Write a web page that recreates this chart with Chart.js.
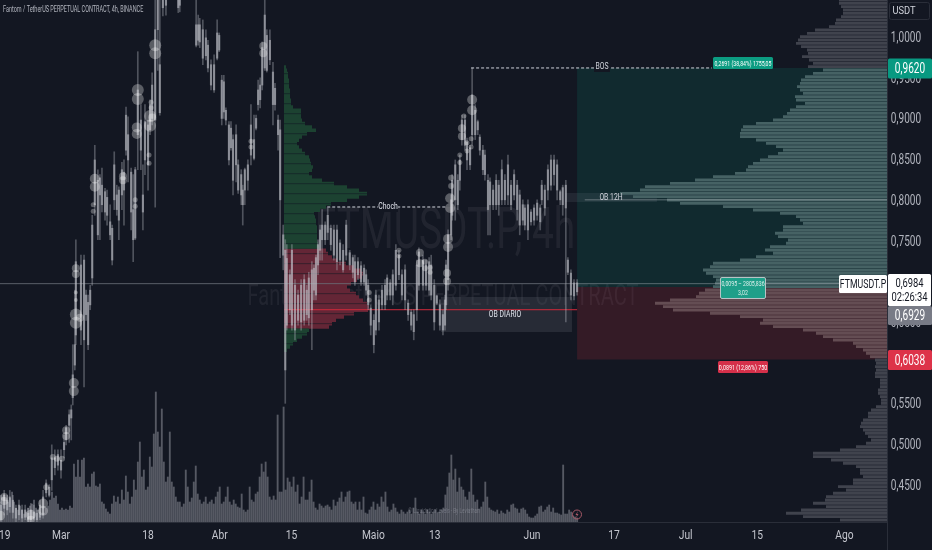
<!DOCTYPE html>
<html>
<head>
<meta charset="utf-8">
<title>FTMUSDT.P 4h</title>
<script src="https://cdn.jsdelivr.net/npm/chart.js@4"></script>
<style>
  html, body { margin: 0; padding: 0; background: #131722; }
  canvas { display: block; }
</style>
</head>
<body>
<canvas id="chart" width="932" height="550"></canvas>
<script>
// x axis is in days counted from 1 March
const xTickDays = [-11, 0, 17, 31, 45, 61, 73, 92, 108, 122, 136, 153];
const xTickLabels = ['19', 'Mar', '18', 'Abr', '15', 'Maio', '13', 'Jun', '17', 'Jul', '15', 'Ago'];
const yTickValues = [1, 0.95, 0.9, 0.85, 0.8, 0.75, 0.7, 0.65, 0.6, 0.55, 0.5, 0.45];

const candleDays = [
  -11.7,-11.1,-10.5,-10,-9.4,-8.8,-8.2,-7.6,-7,-6.4,-5.9,-5.3,-4.7,-4.1,-3.5,-2.9,-2.3,-1.8,-1.2,-.6,
  0,.6,1,1.6,2,2.3,2.7,2.9,3.9,4.5,4.9,5.3,5.7,6.1,6.6,7.2,7.6,8,8.6,9,
  9.6,10,10.4,10.9,11.3,11.9,12.3,12.7,13.1,13.7,14.1,14.5,15,15.6,16,16.4,17,17.4,17.8,18.4,18.9,19.3,19.9,20.5,22.9,23.2,
  26.4,26.8,27.1,27.7,28.3,28.7,29.3,29.9,30.5,30.9,31.4,31.8,32.2,32.8,33.2,33.6,34.2,34.6,35.2,35.5,35.9,36.5,37.1,37.7,38.1,38.5,38.9,39.3,39.8,40.2,40.8,41.4,41.8,42.4,42.8,43.4,43.8,
  44.1,44.7,45.1,45.7,46.3,46.9,47.5,48,48.4,49,49.4,49.8,50.2,50.6,51,51.6,52.1,52.7,53.3,53.9,54.5,55.1,55.7,56.4,57,57.4,58,58.6,59.2,59.6,60,60.5,61.1,
  61.5,62.1,62.7,63.3,63.7,64.3,64.8,65.4,66,66.6,67.2,67.8,68.4,68.9,69.5,69.9,70.7,71.3,71.9,72.3,72.9,73.4,74,74.6,75,75.2,75.6,
  76.2,76.4,77,77.5,77.9,78.3,78.9,79.3,79.9,80.3,80.9,81.4,81.8,82.4,82.8,83.4,83.8,84.4,85,85.5,86.1,86.7,87.3,
  87.9,88.5,89.1,89.6,90.2,90.6,91.2,91.8,92.4,93,93.6,93.9,94.5,95.1,95.7,96.3,96.9,97.5,98,98.6,99,99.6,100.2,100.8
];
const candleHigh = [
  .437,.443,.437,.443,.437,.425,.431,.425,.425,.421,.427,.425,.419,.431,.443,.456,.450,.499,.493,.493,
  .493,.511,.523,.542,.548,.622,.689,.751,.732,.732,.689,.683,.695,.781,.867,.837,.831,.839,.814,.812,
  .794,.769,.859,.818,.816,.846,.849,.914,.902,.839,.831,.840,.982,.917,.843,.917,.898,.923,.956,1.07,1.07,1.07,1.07,1.07,1.07,1.07,
  1.07,1.027,1.023,1.021,1.009,.996,.972,.978,1.021,1.005,.953,.953,.913,.896,.896,.880,.892,.849,.837,.818,.839,.849,.917,.904,.904,.947,.950,.994,1.07,1.009,1.009,.969,.943,.904,.898,.769,.751,
  .745,.714,.745,.702,.689,.702,.708,.695,.711,.724,.720,.732,.751,.769,.788,.773,.790,.769,.769,.769,.751,.745,.775,.738,.732,.732,.729,.724,.720,.714,.702,.671,.659,
  .689,.683,.695,.702,.708,.702,.714,.745,.738,.714,.720,.677,.665,.665,.726,.741,.732,.726,.729,.732,.702,.683,.677,.665,.683,.726,.763,
  .806,.831,.849,.831,.855,.904,.904,.876,.867,.962,.917,.898,.880,.867,.861,.831,.827,.818,.831,.824,.849,.831,.855,
  .824,.837,.824,.812,.800,.794,.800,.788,.794,.800,.794,.824,.818,.843,.855,.855,.849,.812,.818,.824,.729,.714,.702,.702
];
const candleLow = [
  .404,.413,.413,.416,.409,.404,.407,.404,.407,.404,.404,.407,.404,.407,.409,.435,.435,.443,.462,.468,
  .458,.483,.499,.502,.505,.548,.591,.622,.622,.570,.652,.616,.665,.695,.781,.751,.751,.785,.775,.769,
  .751,.720,.788,.781,.751,.788,.769,.855,.822,.763,.724,.751,.837,.837,.763,.831,.812,.880,.892,.791,.959,.904,1.026,1.027,1.030,1.031,
  .988,.990,.987,.966,.972,.957,.935,.932,.972,.982,.892,.900,.892,.843,.861,.806,.822,.808,.794,.769,.794,.812,.843,.849,.886,.910,.913,.935,.959,.957,.966,.892,.910,.861,.729,.714,.550,
  .640,.659,.640,.628,.646,.640,.646,.652,.646,.616,.677,.677,.708,.726,.726,.745,.751,.738,.726,.714,.720,.711,.726,.714,.704,.695,.702,.695,.695,.683,.665,.634,.612,
  .634,.640,.665,.665,.677,.677,.671,.689,.702,.677,.665,.652,.640,.628,.652,.689,.689,.689,.683,.677,.640,.671,.640,.634,.640,.665,.689,
  .751,.775,.775,.788,.812,.867,.861,.837,.837,.867,.874,.880,.855,.831,.824,.757,.757,.788,.788,.781,.794,.794,.794,
  .788,.800,.775,.757,.769,.763,.751,.769,.769,.775,.763,.794,.781,.800,.812,.818,.800,.794,.781,.650,.708,.677,.677,.683
];
const bodyTop = [
  .425,.437,.431,.435,.431,.421,.425,.419,.419,.415,.419,.416,.415,.425,.435,.452,.447,.483,.483,.487,
  .480,.502,.520,.536,.542,.585,.622,.724,.720,.726,.683,.674,.689,.769,.849,.824,.827,.818,.810,.803,
  .773,.765,.843,.806,.812,.837,.834,.904,.880,.834,.788,.837,.935,.898,.806,.896,.892,.917,.941,1.009,1.06,.966,1.06,1.06,1.06,1.06,
  1.015,1.015,1.015,1.009,.999,.990,.966,.966,1.005,1.002,.947,.945,.910,.892,.888,.874,.880,.843,.831,.812,.837,.843,.892,.874,.900,.935,.941,.987,1.027,1.002,.996,.957,.937,.898,.886,.757,.738,
  .728,.708,.738,.695,.683,.695,.702,.689,.704,.714,.716,.729,.745,.763,.769,.769,.781,.765,.763,.763,.747,.738,.769,.735,.729,.724,.724,.719,.716,.708,.695,.667,.652,
  .683,.677,.689,.695,.704,.698,.708,.738,.732,.708,.714,.673,.662,.659,.720,.736,.726,.720,.724,.720,.695,.682,.671,.659,.677,.720,.757,
  .800,.824,.843,.824,.849,.898,.898,.871,.864,.929,.910,.896,.877,.861,.855,.824,.822,.812,.824,.818,.837,.824,.843,
  .818,.831,.818,.806,.794,.790,.794,.785,.790,.796,.790,.818,.812,.837,.849,.849,.843,.810,.815,.818,.726,.710,.698,.698
];
const bodyBottom = [
  .407,.421,.419,.423,.416,.409,.413,.409,.410,.407,.407,.409,.407,.410,.413,.440,.437,.456,.471,.474,
  .468,.493,.505,.523,.532,.557,.597,.634,.640,.628,.659,.622,.671,.704,.794,.757,.806,.794,.785,.781,
  .757,.726,.800,.788,.775,.806,.812,.861,.849,.785,.751,.753,.880,.861,.785,.849,.843,.886,.900,.898,1.009,.907,1.036,1.039,1.036,1.039,
  .990,.996,.994,.974,.977,.962,.941,.935,.974,.984,.900,.908,.898,.849,.864,.824,.843,.812,.806,.794,.812,.824,.855,.851,.888,.917,.923,.941,.962,.959,.972,.917,.917,.880,.800,.732,.591,
  .646,.665,.646,.640,.652,.650,.652,.659,.655,.665,.689,.683,.720,.738,.751,.751,.760,.745,.732,.724,.726,.714,.732,.720,.711,.699,.708,.699,.699,.689,.671,.646,.622,
  .640,.650,.671,.671,.683,.683,.683,.695,.708,.683,.677,.659,.646,.638,.665,.695,.695,.695,.689,.683,.650,.673,.646,.640,.646,.671,.702,
  .757,.781,.800,.794,.824,.874,.867,.849,.843,.880,.880,.886,.861,.837,.831,.788,.794,.794,.794,.794,.800,.800,.806,
  .794,.806,.788,.769,.775,.769,.763,.773,.775,.781,.773,.800,.790,.812,.818,.831,.812,.800,.794,.790,.711,.683,.682,.687
];

// big-order circles on the candles
const bubbleDays = [
  -11.1,-11.1,-11.9,-5.9,-5.9,-3.5,-3.5,-2.9,-1.6,-.8,.2,1,1,2.5,2.5,2.9,2.9,3.7,2.9,2.9,2.9,2.9,
  6.6,6.6,6.3,6.3,12.1,12.1,14.5,14.5,14.8,14.8,15,15,17.2,17.2,17.4,17.4,17.8,17.6,17.6,18.4,18.4,
  37.1,37.1,39.5,39.5,60.2,60.2,66,66,70.1,70.1,71.1,71.1,72.1,72.1,
  75.4,75.4,75.6,75.6,76,76,76.2,76.2,77.9,77.9,78.3,78.3,78.7,79.3,79.3,80.1,80.1,80.3,80.3
];
const bubblePrices = [
  .435,.430,.412,.413,.407,.427,.418,.447,.484,.482,.482,.517,.510,.575,.565,.659,.649,.655,.686,.677,.716,.709,
  .826,.816,.794,.786,.829,.824,.800,.792,.889,.881,.935,.924,.855,.845,.903,.891,.901,.920,.913,.990,.980,
  .872,.865,.989,.980,.686,.677,.738,.731,.735,.722,.724,.716,.717,.711,
  .710,.700,.752,.742,.802,.790,.827,.817,.855,.846,.888,.878,.903,.870,.860,.875,.865,.923,.910
];
const bubbleSizes = [
  4,4,5,5,4,5,5,3,3,3,3,4,4,5,5,6,6,4,2,2,4,4,
  5,5,2.5,2.5,4,4,2.5,2.5,5,5,6,6,2.5,2.5,6,6,4,2.5,2.5,6,6,
  2.5,2.5,4,4,2.5,2.5,2.5,2.5,4,4,3,3,2.5,2.5,
  4,4,5,5,5,5,3,3,2.5,2.5,4,4,2.5,2.5,2.5,2.5,2.5,5,5
];

// volume bars, one every 0.39 day
const volumeStartDay = -11.9;
const volumeStepDay = 0.39;
const volumeValues = [
  20,25,28,22,20,24,30,20,14,12,16,12,8,10,14,16,18,22,14,12,
  10,9,9,14,16,22,30,24,26,18,12,14,12,13,12,16,14,58,45,62,
  45,62,64,35,38,35,48,50,36,35,38,20,18,13,10,8,18,26,20,25,
  18,32,22,46,30,18,25,42,32,60,80,45,52,32,35,65,55,88,130,90,
  75,113,60,40,45,90,40,35,25,20,20,15,18,52,35,20,24,40,56,28,
  22,18,20,25,18,20,22,18,25,30,35,18,20,25,35,20,17,22,18,15,
  14,28,12,10,12,35,22,20,28,30,45,58,50,60,45,25,22,26,22,107,
  30,30,115,32,44,40,35,45,30,37,18,25,45,22,22,30,42,20,14,12,
  18,16,14,16,17,15,12,22,16,20,24,30,20,25,30,31,20,18,20,12,
  20,12,25,9,8,12,15,20,12,18,15,25,20,30,15,10,12,18,14,10,
  8,12,10,8,10,12,8,14,24,10,8,12,10,8,12,10,8,10,12,9,
  10,12,14,27,35,49,67,42,53,30,44,35,32,25,22,30,53,27,20,22,
  13,15,20,40,25,14,12,11,10,12,8,11,9,8,12,10,17,18,14,13,
  9,13,14,12,8,5,4,4,6,8,15,16,10,12,15,17,10,14,9,9,
  8,7,57,8,8,12,10,6,5,4
];

// volume profile on the right edge, top row first
const profileTopPrice = 1.0455;
const profileRowStep = 0.004095;
const profileVolume = [
  48,48,46,44,44,46,51,52,58,72,80,87,89,91,86,80,79,85,78,74,79,
  64,74,82,86,87,90,87,84,92,91,82,91,97,100,104,114,131,144,146,147,147,131,121,111,104,109,119,127,134,139,141,152,174,192,217,242,247,267,254,220,207,164,134,107,91,87,84,104,104,112,109,99,101,117,122,114,131,147,174,177,184,181,174,171,
  172,174,182,188,191,217,232,224,214,177,147,124,127,114,84,71,64,54,34,31,24,21,17,12,11,12,11,12,12,7,7,7,9,9,7,6,6,11,16,19,19,24,26,27,24,22,19,16,21,31,47,74,74,56,44,31,27,27,24,34,34,49,41,54,61,62,74,61,86,101,84,47
];

// session profile anchored mid chart
const sessionTopPrice = 0.9632;
const sessionVolume = [
  2,3,4,4,5,5,5,6,6,6,7,7,9,17,17,17,18,21,28,32,23,18,15,13,15,18,21,25,26,27,29,28,25,28,38,50,63,75,83,75,63,47,42,36,30,31,32,32,33,33,33,33,33,34,35,
  42,44,48,53,62,70,77,79,78,73,67,63,66,72,75,79,83,85,84,70,60,52,48,45,
  25,23,18,13,9,6,3
];

// price levels
const targetPrice = 0.962;
const entryPrice = 0.6929;
const stopPrice = 0.6038;
const lastPrice = 0.6984;
const valueAreaHigh = 0.7385;
const valueAreaLow = 0.6405;
const chocPrice = 0.7912;
const pocPrice = 0.665;
const ob12hPrice = 0.8;

const font = "Roboto, sans-serif";
const xMin = -11.914, xMax = 161.33;

function rows(top, volumes, keep) {
  const out = [];
  volumes.forEach((v, i) => {
    const p = top - i * profileRowStep;
    if (keep(p, i)) out.push({ x: v, y: p }, { x: 0, y: p }, { x: null, y: null });
  });
  return out;
}

function levelLine(from, to, price, color, width, dash, order) {
  return {
    type: 'line', order, xAxisID: 'x', yAxisID: 'y',
    data: [{ x: from, y: price }, { x: to, y: price }],
    borderColor: color, borderWidth: width, borderDash: dash || [], pointRadius: 0
  };
}

function box(from, to, top, bottom, color, order) {
  return {
    type: 'line', order, xAxisID: 'x', yAxisID: 'y',
    data: [{ x: from, y: top }, { x: to, y: top }],
    borderWidth: 0, pointRadius: 0, backgroundColor: color, fill: { value: bottom }
  };
}

function profileRows(data, color, order) {
  return {
    type: 'line', order, xAxisID: 'xProfile', yAxisID: 'y', data,
    borderColor: color, borderWidth: 2.9, pointRadius: 0, spanGaps: false
  };
}

function sessionRows(data, color, width, order) {
  return {
    type: 'line', order, xAxisID: 'xSession', yAxisID: 'y', data,
    borderColor: color, borderWidth: width, pointRadius: 0, spanGaps: false
  };
}

const datasets = [
  box(100.8, xMax, targetPrice, entryPrice, 'rgba(8,153,129,0.15)', 20),
  box(100.8, xMax, entryPrice, stopPrice, 'rgba(242,54,69,0.15)', 20),
  box(98.4, 116.4, 0.8084, 0.7974, 'rgba(120,123,134,0.16)', 19),
  box(74.2, 99.8, 0.6807, 0.6376, 'rgba(120,123,134,0.2)', 19),
  {
    type: 'bar', order: 18, xAxisID: 'x', yAxisID: 'yVolume', grouped: false, barThickness: 1.2,
    data: volumeValues.map((v, i) => ({ x: volumeStartDay + i * volumeStepDay, y: v })),
    backgroundColor: 'rgba(178,181,190,0.42)'
  },
  sessionRows(rows(sessionTopPrice, sessionVolume, p => p > valueAreaHigh || p < valueAreaLow), '#1c4231', 3.6, 17),
  sessionRows(rows(sessionTopPrice, sessionVolume, p => p <= valueAreaHigh && p >= valueAreaLow), '#642636', 3.6, 17),
  sessionRows(rows(sessionTopPrice, sessionVolume, (p, i) => i % 3 === 2), 'rgba(19,23,34,0.55)', 1, 16),
  profileRows(rows(profileTopPrice, profileVolume, p => p > targetPrice || p < stopPrice), '#40434d', 15),
  profileRows(rows(profileTopPrice, profileVolume, p => p <= targetPrice && p > entryPrice), '#466264', 15),
  profileRows(rows(profileTopPrice, profileVolume, p => p <= entryPrice && p >= stopPrice), '#644d53', 15),
  levelLine(xMin, xMax, 0.697, 'rgba(178,181,190,0.45)', 1, null, 12),
  levelLine(43.6, 100.8, pocPrice, '#d02a3a', 1, null, 12),
  levelLine(102.3, xMax, ob12hPrice, 'rgba(178,181,190,0.5)', 1, null, 12),
  {
    type: 'bar', order: 10, xAxisID: 'x', yAxisID: 'y', grouped: false, barThickness: 1,
    data: candleDays.map((d, i) => ({ x: d, y: [candleLow[i], candleHigh[i]] })),
    backgroundColor: 'rgba(178,181,190,0.38)'
  },
  {
    type: 'bar', order: 9, xAxisID: 'x', yAxisID: 'y', grouped: false, barThickness: 1.5,
    data: candleDays.map((d, i) => ({ x: d, y: [bodyBottom[i], bodyTop[i]] })),
    backgroundColor: 'rgba(196,198,206,0.55)'
  },
  {
    type: 'bubble', order: 8, xAxisID: 'x', yAxisID: 'y',
    data: bubbleDays.map((d, i) => ({ x: d, y: bubblePrices[i], r: bubbleSizes[i] })),
    backgroundColor: 'rgba(255,255,255,0.3)', borderWidth: 0
  },
  levelLine(80.1, 127.1, targetPrice, '#d1d4dc', 1, [3, 2], 5),
  levelLine(52, 75.4, chocPrice, '#d1d4dc', 1, [3, 2], 5)
];

// the reference type is very condensed, so text is squeezed sideways
function squeezed(ctx, text, x, y, color, size, squeeze, align) {
  ctx.save();
  ctx.fillStyle = color;
  ctx.font = size + 'px ' + font;
  ctx.textAlign = align || 'center';
  ctx.textBaseline = 'middle';
  ctx.translate(x, y);
  ctx.scale(squeeze, 1);
  ctx.fillText(text, 0, 0);
  ctx.restore();
}

function tag(ctx, x, y, w, h, fill, lines, color, size, squeeze, border) {
  ctx.fillStyle = fill;
  ctx.beginPath();
  ctx.roundRect(x, y, w, h, 1.5);
  ctx.fill();
  if (border) {
    ctx.strokeStyle = border;
    ctx.lineWidth = 1;
    ctx.stroke();
  }
  lines.forEach((t, i) => {
    const dy = (i - (lines.length - 1) / 2) * (size + 2);
    squeezed(ctx, t, x + w / 2, y + h / 2 + dy + 1, color, size, squeeze);
  });
}

const overlay = {
  id: 'overlay',
  beforeDatasetsDraw(chart) {
    const ctx = chart.ctx;
    squeezed(ctx, 'FTMUSDT.P, 4h', 445, 233, 'rgba(178,181,190,0.09)', 58, 0.67);
    squeezed(ctx, 'Fantom / TetherUS PERPETUAL CONTRACT', 443, 297, 'rgba(178,181,190,0.09)', 30, 0.67);
  },
  afterDraw(chart) {
    const ctx = chart.ctx;
    const xScale = chart.scales.x;
    const yScale = chart.scales.y;
    const money = v => v.toFixed(4).replace('.', ',');
    ctx.save();

    // axis labels, placed through the scales
    xTickDays.forEach((d, i) => {
      squeezed(ctx, xTickLabels[i], xScale.getPixelForValue(d), 536, '#c4c6ce', 12.5, 0.82);
    });
    yTickValues.forEach(v => {
      squeezed(ctx, money(v), 906, yScale.getPixelForValue(v) + 1.5, '#b2b5be', 14, 0.72);
    });

    squeezed(ctx, 'Fantom / TetherUS PERPETUAL CONTRACT, 4h, BINANCE', 3, 10, '#b2b5be', 9, 0.61, 'left');

    ctx.fillStyle = '#131722';
    ctx.fillRect(378, 202, 20, 10);
    squeezed(ctx, 'Choch', 388, 207, '#e0e3eb', 9.5, 0.72);
    ctx.fillRect(594, 63, 16, 9);
    squeezed(ctx, 'BOS', 602, 67, '#d1d4dc', 9.5, 0.72);
    squeezed(ctx, 'OB 12H', 611, 198, '#d1d4dc', 9.5, 0.72);
    squeezed(ctx, 'OB DIARIO', 505, 315, '#e0e3eb', 9.5, 0.72);
    squeezed(ctx, '© LiquidationLevels - By Leviathan', 444, 511, 'rgba(178,181,190,0.4)', 6.5, 0.72);

    tag(ctx, 713, 57, 60, 12, '#0c9c82', ['0,2691 (38,84%) 1755,05'], '#ffffff', 6.5, 0.8);
    tag(ctx, 718, 361, 50, 12, '#d5304a', ['0,0891 (12,86%) 750'], '#ffffff', 6.5, 0.82);
    tag(ctx, 720.5, 277.5, 45, 21, '#1f9f89', ['0,0095 – 2805,836', '3,02'], '#dcefeb', 6.5, 0.8, '#b8c4c6');

    // right axis price tags
    tag(ctx, 888, yScale.getPixelForValue(targetPrice) - 9.5, 44, 20, '#089981', [money(targetPrice)], '#ffffff', 14, 0.72);
    tag(ctx, 888, yScale.getPixelForValue(stopPrice) - 9.5, 44, 20, '#dd3349', [money(stopPrice)], '#ffffff', 14, 0.72);
    tag(ctx, 888, 306, 44, 19, '#787b86', [money(entryPrice)], '#ffffff', 14, 0.72);
    tag(ctx, 839, 275, 48, 18, '#ffffff', ['FTMUSDT.P'], '#131722', 12.5, 0.7);
    tag(ctx, 888, 274, 43, 32, '#ffffff', [money(lastPrice), '02:26:34'], '#131722', 12.5, 0.75);

    // USDT button
    ctx.strokeStyle = '#2a2e39';
    ctx.lineWidth = 1;
    ctx.beginPath();
    ctx.roundRect(889.5, 2.5, 40, 17, 2);
    ctx.stroke();
    squeezed(ctx, 'USDT', 904, 11, '#d1d4dc', 11, 0.85);

    ctx.strokeStyle = '#2a2e39';
    ctx.beginPath();
    ctx.moveTo(887.5, 522);
    ctx.lineTo(887.5, 550);
    ctx.stroke();

    // news flash icon
    ctx.strokeStyle = '#a85a68';
    ctx.beginPath();
    ctx.arc(577, 514.5, 4.5, 0, Math.PI * 2);
    ctx.stroke();
    ctx.fillStyle = '#a85a68';
    ctx.beginPath();
    ctx.moveTo(578, 511);
    ctx.lineTo(575.5, 515);
    ctx.lineTo(577, 515);
    ctx.lineTo(576, 518);
    ctx.lineTo(578.5, 514);
    ctx.lineTo(577, 514);
    ctx.closePath();
    ctx.fill();
    ctx.restore();
  }
};

new Chart(document.getElementById('chart'), {
  data: { datasets },
  plugins: [overlay],
  options: {
    responsive: false,
    animation: false,
    layout: { padding: 0, autoPadding: false },
    plugins: { legend: { display: false }, tooltip: { enabled: false } },
    scales: {
      x: {
        type: 'linear', min: xMin, max: xMax, offset: false,
        grid: { display: false, drawTicks: false },
        border: { color: '#2a2e39' },
        afterBuildTicks: s => { s.ticks = xTickDays.map(value => ({ value })); },
        afterFit: s => { s.height = 28; s.paddingLeft = 0; s.paddingRight = 0; },
        ticks: { display: false }
      },
      y: {
        type: 'linear', position: 'right', min: 0.4042, max: 1.0455,
        grid: { display: false, drawTicks: false },
        border: { color: '#2a2e39' },
        afterBuildTicks: s => { s.ticks = yTickValues.map(value => ({ value })); },
        afterFit: s => { s.width = 45; s.paddingTop = 0; s.paddingBottom = 0; },
        ticks: { display: false }
      },
      yVolume: { type: 'linear', display: false, min: 0, max: 522 },
      xProfile: { type: 'linear', display: false, reverse: true, min: 0, max: 887 },
      xSession: { type: 'linear', display: false, min: -284, max: 603 }
    }
  }
});
</script>
</body>
</html>
